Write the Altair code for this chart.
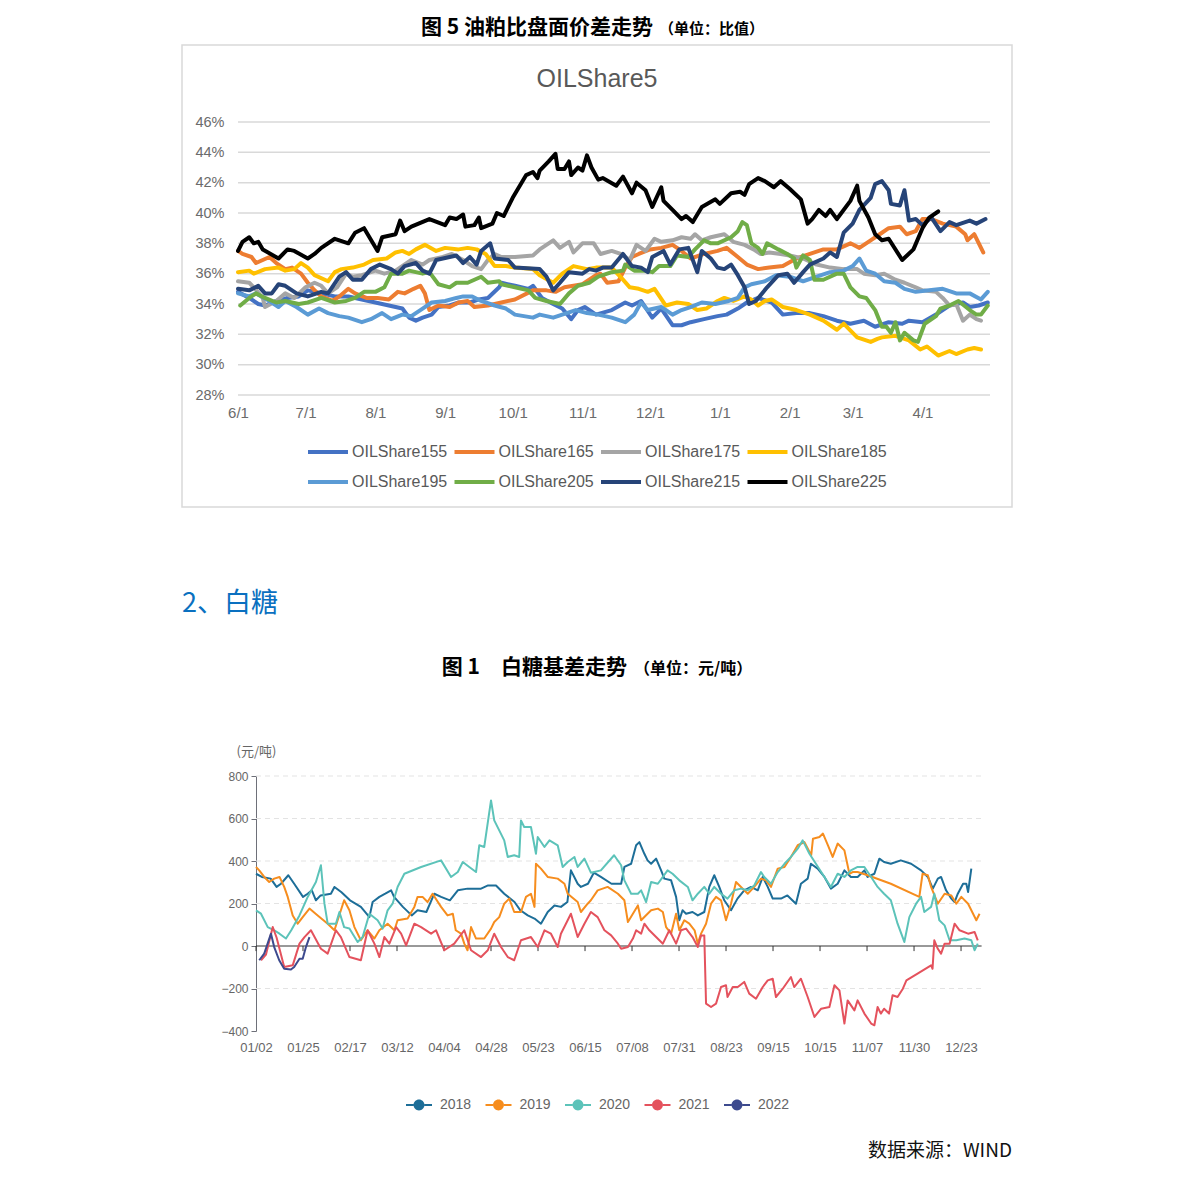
import altair as alt
import pandas as pd

# ---------------- Chart 1 (OILShare5) ----------------
series_names = ["OILShare155", "OILShare165", "OILShare175", "OILShare185",
                "OILShare195", "OILShare205", "OILShare215", "OILShare225"]
series_colors = ["#4472C4", "#ED7D31", "#A5A5A5", "#FFC000",
                 "#5B9BD5", "#70AD47", "#264478", "#000000"]
month_ticks = [0, 30, 61, 92, 122, 153, 183, 214, 245, 273, 304]
month_labels = ["6/1", "7/1", "8/1", "9/1", "10/1", "11/1", "12/1", "1/1", "2/1", "3/1", "4/1"]
pct_ticks = [28, 30, 32, 34, 36, 38, 40, 42, 44, 46]

# (day offset from 6/1, value %)
OIL155 = [(0,34.8),(5,34.4),(9,34.0),(12,33.9),(17,34.2),(22,34.4),(27,34.5),(31,34.9),(37,34.7),(43,34.5),
          (49,34.5),(52,34.4),(58,34.2),(64,34.0),(70,33.8),(73,33.7),(76,33.1),(79,32.9),(82,33.1),(86,33.3),
          (89,33.8),(94,33.9),(98,34.1),(103,34.1),(107,34.3),(111,34.4),(116,35.1),(117,35.4),(123,35.2),(129,35.0),
          (131,35.2),(135,34.4),(140,34.0),(144,33.7),(148,33.0),(151,33.6),(154,33.8),(159,33.3),(166,33.6),(172,34.1),
          (175,33.9),(179,34.2),(184,33.1),(188,33.7),(193,32.6),(197,32.6),(201,32.8),(207,33.0),(213,33.2),(217,33.3),
          (222,33.7),(226,34.1),(231,34.4),(237,34.1),(242,33.3),(248,33.4),(254,33.4),(260,33.2),(266,32.9),(272,32.7),
          (278,32.9),(283,32.5),(289,32.8),(295,32.7),(298,32.9),(304,32.8),(310,33.3),(316,33.9),(322,34.1),(325,33.8),
          (329,33.9),(333,34.1)]
OIL165 = [(0,37.5),(2,37.3),(6,37.1),(8,36.7),(14,37.1),(17,36.7),(21,36.3),(24,36.4),(28,36.0),(31,35.4),
          (34,34.9),(37,34.5),(42,34.2),(45,34.5),(49,35.0),(52,34.7),(57,34.4),(62,34.4),(67,34.3),(71,34.8),
          (74,34.7),(78,35.0),(81,35.2),(83,34.7),(85,33.6),(89,33.9),(94,33.8),(98,34.1),(102,34.2),(105,33.8),
          (111,33.9),(117,34.1),(123,34.3),(131,34.9),(137,34.9),(141,34.8),(145,35.1),(153,35.3),(159,35.9),(161,36.0),
          (164,35.4),(169,35.5),(172,36.4),(175,37.1),(178,37.3),(183,37.6),(188,37.7),(193,37.9),(197,37.5),(201,37.0),
          (207,37.3),(213,37.5),(217,37.7),(222,37.1),(226,36.6),(231,36.3),(236,36.4),(242,36.5),(248,37.0),(254,37.3),
          (260,37.6),(266,37.6),(272,38.0),(276,37.7),(281,38.2),(284,38.5),(286,38.7),(289,39.0),(294,39.1),(297,38.6),
          (301,38.8),(304,39.6),(308,39.6),(313,39.3),(319,39.1),(323,38.6),(324,38.2),(327,38.6),(331,37.4)]
OIL175 = [(0,35.5),(5,35.4),(7,35.1),(11,34.4),(12,33.8),(17,34.2),(21,34.7),(25,34.4),(30,35.1),(34,35.4),
          (37,35.2),(40,34.7),(44,35.1),(48,36.0),(51,35.8),(55,35.9),(61,36.2),(65,36.0),(70,36.2),(77,36.9),
          (82,36.6),(85,36.9),(91,37.1),(95,37.3),(100,36.9),(104,36.5),(108,36.3),(111,36.9),(114,37.3),(117,37.1),
          (123,37.1),(131,37.2),(134,37.6),(138,38.0),(140,38.2),(143,37.7),(147,38.1),(149,37.4),(153,38.0),(158,38.0),
          (161,37.3),(166,37.5),(170,37.3),(174,36.9),(177,37.9),(181,37.5),(185,38.3),(188,38.1),(193,38.2),(197,38.4),
          (201,38.3),(203,38.6),(206,38.2),(210,38.4),(216,38.6),(220,38.1),(225,37.9),(229,37.6),(232,37.3),(236,37.4),
          (241,37.3),(245,37.2),(251,37.0),(257,36.6),(263,36.4),(269,36.3),(275,36.3),(278,36.0),(283,35.9),(287,36.0),
          (292,35.6),(296,35.4),(301,35.1),(304,34.9),(310,34.8),(313,34.4),(316,33.9),(319,34.0),(322,32.9),(325,33.3),
          (328,33.0),(330,32.9)]
OIL185 = [(0,36.1),(5,36.2),(7,36.0),(12,36.3),(18,36.4),(21,36.2),(25,36.3),(28,36.7),(31,36.4),(34,35.9),
          (40,35.5),(43,36.1),(46,36.3),(51,36.4),(56,36.6),(60,36.9),(66,37.0),(70,37.4),(73,37.5),(76,37.3),
          (79,37.6),(83,37.9),(88,37.5),(92,37.7),(98,37.6),(102,37.7),(106,37.6),(110,37.3),(112,36.9),(114,36.5),
          (119,36.5),(123,36.4),(131,36.3),(134,35.9),(140,35.4),(144,36.0),(149,36.5),(155,36.3),(159,36.4),(166,36.4),
          (171,35.6),(174,35.1),(178,35.0),(182,34.8),(185,35.0),(190,33.9),(195,34.1),(200,34.0),(204,33.6),(208,33.7),
          (213,34.2),(216,34.4),(220,34.2),(225,34.5),(228,34.3),(231,33.9),(234,34.2),(237,34.3),(242,33.8),(248,33.6),
          (254,33.3),(260,32.9),(266,32.3),(269,32.7),(275,31.8),(281,31.5),(284,31.7),(286,31.8),(292,31.9),(298,31.6),
          (303,31.0),(306,31.2),(311,30.6),(316,30.9),(319,30.7),(324,31.0),(327,31.1),(330,31.0)]
OIL195 = [(0,34.7),(5,34.5),(8,34.7),(14,34.2),(18,33.8),(21,34.2),(26,33.8),(31,33.3),(36,33.7),(40,33.4),
          (45,33.2),(49,33.1),(55,32.8),(59,33.0),(64,33.4),(68,33.0),(73,33.3),(77,33.2),(82,33.7),(86,34.1),
          (92,34.2),(97,34.4),(100,34.5),(104,34.5),(108,34.2),(114,33.9),(119,33.7),(123,33.3),(131,33.1),(134,33.3),
          (140,33.1),(144,33.3),(150,33.6),(155,33.4),(160,33.3),(166,33.1),(172,32.8),(176,33.3),(179,34.1),(182,33.6),
          (188,33.8),(193,33.3),(197,33.6),(201,33.8),(206,34.1),(212,34.0),(218,34.2),(222,34.4),(225,35.1),(228,35.3),
          (234,35.5),(239,35.9),(245,35.8),(251,35.5),(257,35.8),(263,36.1),(269,36.2),(273,36.5),(276,37.0),(279,36.2),
          (283,36.0),(287,35.5),(292,35.4),(296,35.0),(301,34.8),(307,34.9),(313,35.0),(319,34.7),(325,34.7),(330,34.3),
          (333,34.8)]
OIL205 = [(1,33.9),(5,34.4),(8,34.7),(12,34.4),(17,34.1),(21,34.2),(27,34.0),(31,34.1),(37,34.4),(43,34.1),
          (48,34.2),(52,34.4),(56,34.8),(61,34.8),(65,35.1),(68,36.0),(73,36.0),(76,36.2),(82,36.0),(85,36.1),
          (89,35.3),(94,35.1),(97,35.4),(102,35.4),(108,35.8),(111,35.4),(116,35.5),(117,35.3),(123,35.1),(129,34.9),
          (132,34.4),(137,34.2),(143,34.0),(147,34.7),(151,35.2),(156,35.4),(160,35.8),(164,36.0),(166,36.1),(171,36.2),
          (172,36.6),(176,36.2),(181,36.2),(184,36.1),(187,36.5),(192,36.5),(195,37.2),(200,37.1),(203,37.6),(207,38.2),
          (210,38.0),(213,38.0),(219,38.4),(222,38.8),(224,39.4),(226,39.2),(228,38.0),(231,37.7),(233,37.3),(235,38.0),
          (240,37.6),(244,37.3),(247,37.0),(248,36.4),(251,37.2),(254,36.9),(256,35.6),(260,35.6),(266,36.0),(269,36.0),
          (272,35.1),(276,34.5),(279,34.4),(283,33.6),(286,32.5),(288,32.5),(290,32.1),(292,32.8),(294,31.6),(296,32.1),
          (300,31.6),(302,31.5),(305,32.7),(310,33.2),(312,33.7),(316,33.9),(320,34.2),(325,33.6),(328,33.3),(330,33.3),
          (333,33.9)]
OIL215 = [(0,35.0),(5,34.9),(9,35.2),(12,34.7),(15,34.7),(18,35.3),(21,35.2),(26,34.7),(31,34.5),(37,34.8),
          (40,34.7),(45,35.8),(48,36.1),(51,35.6),(55,35.6),(59,36.3),(63,36.6),(68,36.3),(71,36.0),(74,36.5),
          (79,36.7),(82,36.2),(85,36.0),(88,36.9),(94,37.1),(97,37.2),(100,36.7),(103,37.1),(106,36.6),(108,37.5),
          (112,38.0),(114,37.0),(120,36.9),(123,36.4),(134,36.3),(137,35.8),(140,34.9),(143,35.4),(147,36.1),(153,36.0),
          (156,36.3),(159,36.2),(162,36.4),(166,36.4),(171,37.3),(175,36.5),(179,36.4),(182,36.1),(184,37.1),(189,37.5),
          (192,36.6),(196,37.6),(200,37.7),(204,36.1),(206,37.5),(210,37.0),(213,36.4),(216,36.3),(219,36.6),(222,35.9),
          (225,35.1),(227,34.0),(230,34.2),(235,35.1),(240,35.9),(244,36.0),(247,35.4),(251,36.1),(254,36.6),(260,37.0),
          (263,37.4),(266,37.1),(269,38.7),(273,39.3),(276,40.2),(281,41.0),(283,41.9),(286,42.1),(289,41.5),(290,40.6),
          (294,40.5),(296,41.5),(298,39.5),(301,39.6),(304,39.2),(308,39.7),(312,38.8),(316,39.4),(319,39.2),(325,39.5),
          (328,39.3),(332,39.6)]
OIL225 = [(0,37.5),(2,38.1),(5,38.4),(7,38.0),(9,38.1),(11,37.6),(18,37.0),(22,37.6),(25,37.5),(31,37.0),
          (34,37.3),(37,37.7),(43,38.3),(49,38.0),(52,38.7),(56,39.0),(62,37.5),(64,38.4),(70,38.6),(72,39.5),
          (74,38.8),(77,39.1),(85,39.6),(92,39.2),(94,39.7),(97,39.6),(100,39.9),(101,39.1),(105,39.2),(107,39.7),
          (108,39.0),(113,39.3),(115,40.0),(118,39.8),(120,40.4),(122,41.0),(128,42.5),(131,42.7),(133,42.3),(134,42.8),
          (138,43.4),(141,43.9),(142,42.9),(145,42.9),(147,43.4),(148,42.5),(151,43.0),(153,42.8),(155,43.8),(157,43.0),
          (160,42.2),(162,42.3),(168,41.8),(171,42.4),(175,41.3),(177,42.0),(181,41.5),(184,40.4),(188,41.7),(189,40.8),
          (193,40.2),(197,39.6),(199,39.8),(202,39.4),(206,40.4),(212,40.9),(214,40.6),(219,41.3),(223,41.4),(225,41.2),
          (227,41.9),(231,42.3),(234,42.1),(238,41.7),(241,42.1),(245,41.6),(250,40.9),(253,39.3),(255,39.6),(258,40.2),
          (261,39.8),(263,40.2),(266,39.6),(272,40.8),(275,41.8),(276,40.8),(280,39.7),(283,38.6),(286,38.2),(289,38.3),
          (295,36.9),(300,37.6),(304,39.0),(307,39.7),(311,40.1)]

# ---------------- Chart 2 (sugar basis) ----------------
years = ["2018", "2019", "2020", "2021", "2022"]
year_colors = ["#1d6e98", "#f68d1e", "#5cc3b9", "#e4525d", "#3d4a8e"]
day_ticks = [0, 16, 32, 48, 64, 80, 96, 112, 128, 144, 160, 176, 192, 208, 224, 240]
day_labels = ["01/02", "01/25", "02/17", "03/12", "04/04", "04/28", "05/23", "06/15",
              "07/08", "07/31", "08/23", "09/15", "10/15", "11/07", "11/30", "12/23"]
basis_ticks = [-400, -200, 0, 200, 400, 600, 800]
basis_grid = [800, 600, 400, 200, -200]

# (trading-day index, 元/吨)
Y2018 = [(0,340),(2,325),(5,317),(7,278),(8.5,293),(11,333),(13,293),(16,231),(17.6,246),(19,262),(20.4,215),
         (22,238),(25.5,246),(26.7,278),(29,254),(32,215),(35.7,184),(38.6,136),(39.7,207),(42,231),(44,246),
         (46,262),(47,231),(50,184),(53,144),(55,168),(58,160),(60.7,246),(63,231),(66,215),(68.7,262),(72,270),
         (76.6,270),(79,285),(81.7,285),(84.5,246),(88,207),(90,168),(92.5,144),(94.8,129),(97,105),(99.3,160),
         (101.6,191),(103.8,184),(106,207),(107.2,356),(109.5,293),(110.6,278),(113,293),(115,345),(117.4,325),
         (121,293),(124.3,293),(125.4,372),(127.7,387),(129.4,474),(130.5,489),(132.2,434),(133.3,403),(134.5,387),
         (136.2,411),(137.9,356),(139,317),(141.3,309),(143,231),(144.1,121),(145.2,168),(146.4,152),(148.6,160),
         (150.4,144),(152.6,160),(154.3,278),(156,333),(157.7,278),(159.4,215),(161.7,168),(163.9,223),(166.2,262),
         (168.5,278),(170.8,262),(172.5,325),(174.2,278),(175.9,223),(178.7,223),(180.9,238),(183.8,199),(185.5,293),
         (187.8,317),(188.9,387),(191.2,364),(193.5,325),(195.7,270),(198,293),(200.3,356),(202.5,325),(204.8,325),
         (207.1,356),(208.2,325),(210.5,340),(212.2,411),(213.8,395),(216.1,387),(219.5,403),(223,387),(226.4,356),
         (228.7,325),(230.4,270),(232.1,317),(233.2,325),(234.9,262),(236.7,223),(237.8,207),(238.9,246),(240.7,293),
         (241.8,293),(242.4,254),(243.5,364)]
Y2019 = [(0,372),(1.1,356),(2.8,325),(4.5,301),(6.2,317),(8,325),(9.6,278),(10.8,231),(12.5,144),(14.2,105),
         (15.9,136),(18.2,176),(21,144),(24.4,105),(26.7,74),(30,215),(31.8,168),(33.5,89),(35.7,27),(38,74),
         (40.3,35),(42,74),(44.8,105),(47.1,74),(48.2,121),(51.6,129),(53.9,184),(55,231),(56.7,231),(58.4,207),
         (60.1,246),(63,184),(65.2,144),(67,152),(68,74),(69.8,58),(70.9,11),(72,-20),(73.2,89),(74.9,35),(77.7,35),
         (80,82),(81.1,113),(82.8,136),(84.5,199),(86.2,223),(87.9,160),(90.2,160),(91.9,231),(93.6,246),(94.8,184),
         (95.3,387),(97,364),(99.3,325),(102.7,317),(105,293),(106.1,246),(109.5,207),(110.6,160),(112.9,199),
         (114,215),(116.3,262),(119.7,278),(123.2,246),(125.4,215),(126.6,113),(128.3,152),(130,191),(131.1,121),
         (133.3,152),(134.5,168),(136.8,176),(138.5,160),(139.6,89),(141.3,58),(143,152),(144.1,74),(145.8,121),
         (147.5,105),(149.3,74),(150.4,11),(151.5,58),(153.2,105),(154.9,199),(156.6,231),(158.3,215),(160,121),
         (161.7,199),(163.4,301),(165.1,278),(167.4,246),(169.6,278),(171.9,317),(173.6,309),(175.3,278),(177.6,364),
         (179.9,372),(182.1,419),(184.4,474),(186.7,489),(189,427),(189.6,505),(191.8,513),(193,529),(194.7,474),
         (196.3,419),(198,482),(200.3,450),(202,340),(203.1,348),(204.8,348),(208.2,333),(216.1,293),(225.8,231),
         (226.9,340),(228.7,333),(229.8,278),(232.1,199),(234.4,246),(236.7,238),(238.4,199),(240.1,231),(242.4,199),
         (245.2,121),(246.3,152)]
Y2020 = [(0,168),(1.7,152),(4,89),(6.2,74),(8,58),(10.2,35),(12,74),(14.8,144),(17.6,231),(20.4,301),(22.1,380),
         (23.3,199),(24.4,105),(27.2,105),(28.4,160),(30,89),(31.8,82),(34.6,19),(36.3,42),(38.6,152),(41.4,121),
         (43.1,82),(44.8,168),(46.5,199),(48.2,278),(50.5,340),(56.2,372),(63,403),(66.4,325),(68.7,348),(70.4,395),
         (72.6,372),(74.9,348),(76,474),(77.7,466),(80,685),(81.1,591),(84.5,497),(85.7,419),(87.9,427),(89.6,419),
         (90.2,591),(91.3,560),(93.6,560),(95.3,434),(95.9,513),(98.2,466),(99.9,497),(102.7,474),(104.4,372),
         (106.1,395),(108.4,419),(109.5,372),(111.8,411),(114,345),(117.4,356),(121.9,427),(124.3,380),(125.4,309),
         (127.7,246),(130,246),(131.1,262),(132.8,207),(134.5,301),(136.8,293),(140.1,356),(141.8,340),(144.1,309),
         (147,278),(148.6,215),(150.4,246),(152.6,278),(154.3,246),(156,278),(158.3,246),(160.5,223),(162.8,262),
         (165.1,270),(167.4,262),(169.6,285),(171.9,348),(173,325),(175.3,293),(177.6,348),(179.9,387),(182.1,419),
         (184.4,458),(186.1,497),(188.4,434),(190.6,387),(193.5,325),(195.7,278),(198,340),(200.3,325),(202.5,356),
         (204.8,372),(207.1,372),(209.4,325),(211.6,278),(213.8,246),(216.1,215),(218.4,105),(220.7,19),(222.4,136),
         (224.7,199),(226.4,231),(227.5,160),(229.8,184),(230.9,246),(232.6,121),(234.4,97),(236.1,27),(238.4,27),
         (241.2,35),(243.5,27),(244.6,-20),(245.7,11)]
Y2021 = [(1.7,-67),(3.4,-40),(5.7,89),(7,40),(9.6,-99),(12.5,-91),(14.8,11),(16.5,42),(18.7,74),(22.1,-13),
         (24.4,-36),(27.2,74),(28.9,42),(31.8,-52),(35.7,-67),(38,74),(40.3,11),(42,-52),(43.7,42),(45.4,11),
         (47.7,89),(49.4,58),(51.1,3),(53.9,105),(56.2,89),(59.6,58),(61.3,74),(64.1,-20),(67.5,11),(70.9,74),
         (73.2,-20),(76.6,-52),(78.9,-20),(81.1,58),(83.4,-5),(85.7,-52),(87.9,-67),(90.2,27),(93.6,42),(95.9,-5),
         (98.2,74),(100.4,58),(102.7,-5),(103.8,58),(106.1,121),(107.2,152),(109.5,42),(111.8,105),(114,160),
         (116.3,136),(118.6,74),(120.9,50),(123.2,11),(124.3,-13),(126.6,-5),(128.3,35),(129.4,74),(131.1,58),
         (132.2,105),(133.9,74),(136.2,42),(138.5,11),(140.7,74),(143,11),(144.7,74),(146.4,82),(148.6,42),
         (150.4,-5),(151.5,50),(152.6,50),(153.2,-271),(154.9,-287),(156.6,-271),(158.3,-193),(160,-185),
         (160.5,-240),(162.3,-193),(164,-193),(166.2,-169),(167.9,-224),(170.2,-248),(172.5,-193),(174.2,-162),
         (175.9,-154),(177,-240),(179.3,-201),(182.1,-146),(183.2,-193),(185.5,-154),(187.8,-240),(190.1,-334),
         (192.4,-295),(195.2,-287),(196.9,-185),(198.6,-209),(200.3,-365),(201.4,-256),(203.7,-303),(204.8,-256),
         (207.1,-318),(209.4,-365),(210.5,-373),(211.6,-287),(212.7,-318),(213.8,-295),(215.5,-318),(216.7,-232),
         (218.4,-240),(220.2,-201),(221.4,-162),(225.2,-130),(229.8,-91),(230.3,-107),(230.9,27),(232.1,-13),
         (233.2,-36),(234.4,11),(236.1,11),(237.8,105),(239.5,74),(242.4,58),(244.6,66),(245.7,27)]
Y2022 = [(1.1,-67),(2.8,-36),(5.1,58),(6.2,-5),(7.9,-67),(9.6,-107),(11.9,-111),(13,-99),(14.8,-60),
         (15.9,-60),(17,-5),(18.2,42)]

# ---------------- build tables ----------------
oil_series = [OIL155, OIL165, OIL175, OIL185, OIL195, OIL205, OIL215, OIL225]
rows1 = []
for name, pts in zip(series_names, oil_series):
    for d, v in pts:
        rows1.append({"series": name, "d": d, "v": v})
df1 = pd.DataFrame(rows1)

sugar_series = [Y2018, Y2019, Y2020, Y2021, Y2022]
rows2 = []
for yr, pts in zip(years, sugar_series):
    for i, v in pts:
        rows2.append({"year": yr, "i": i, "v": v})
df2 = pd.DataFrame(rows2)

CJK = "Noto Sans CJK SC"
LAT = "Liberation Sans"

# ---------------- Chart 1 ----------------
W = 830
H1 = 462
x1_scale = alt.Scale(domain=[0, 334], range=[56, 808], nice=False, zero=False)
y1_scale = alt.Scale(domain=[28, 46], range=[350, 77], nice=False, zero=False)
lab1 = "[" + ",".join("'%s'" % s for s in month_labels) + "][indexof([" + \
       ",".join(str(t) for t in month_ticks) + "], datum.value)]"
x1_axis = alt.Axis(values=month_ticks, labelExpr=lab1, domain=False, ticks=False, tickSize=0,
                   grid=False, labelFont=LAT, labelFontSize=15, labelColor="#6b6b6b",
                   labelPadding=10, offset=-112, title=None, labelFlush=False, labelOverlap=False)
y1_axis = alt.Axis(values=pct_ticks, labelExpr="datum.value + '%'", domain=False, ticks=False,
                   tickSize=0, grid=False, labelFont=LAT, labelFontSize=14.5, labelColor="#6b6b6b",
                   labelPadding=14, offset=-56, title=None, labelOverlap=False)

grid1_df = pd.DataFrame({"v": pct_ticks, "x0": [0] * len(pct_ticks), "x1": [334] * len(pct_ticks)})
grid1 = alt.Chart(grid1_df).mark_rule(color="#d9d9d9", strokeWidth=1.5).encode(
    x=alt.X("x0:Q", scale=x1_scale, axis=x1_axis),
    x2="x1:Q",
    y=alt.Y("v:Q", scale=y1_scale, axis=y1_axis),
)
leg1 = alt.Legend(orient="none", legendX=124, legendY=385, direction="horizontal", columns=4,
                  symbolType="stroke", symbolSize=1600, symbolStrokeWidth=4,
                  labelFont=LAT, labelFontSize=16, labelColor="#595959", labelOffset=2,
                  columnPadding=-1.5, rowPadding=-10, title=None, labelLimit=200)
lines1 = alt.Chart(df1).mark_line(strokeWidth=4, strokeJoin="round", strokeCap="round").encode(
    x=alt.X("d:Q", scale=x1_scale, axis=x1_axis),
    y=alt.Y("v:Q", scale=y1_scale, axis=y1_axis),
    color=alt.Color("series:N", scale=alt.Scale(domain=series_names, range=series_colors),
                    legend=leg1, sort=series_names),
)
title1 = alt.Chart(pd.DataFrame({"t": ["OILShare5"]})).mark_text(
    font=LAT, fontSize=25, color="#595959", align="center", baseline="middle"
).encode(text="t:N", x=alt.value(415), y=alt.value(34))

chart1 = alt.layer(grid1, lines1, title1).properties(
    width=W, height=H1, view=alt.ViewBackground(stroke="#d9d9d9", strokeWidth=1.5))

# ---------------- Heading rows ----------------
head0a = alt.Chart(pd.DataFrame({"t": ["图 5 油粕比盘面价差走势"]})).mark_text(
    font=CJK, fontWeight="bold", fontSize=21, align="right", baseline="middle", color="#000000"
).encode(text="t:N", x=alt.value(471), y=alt.value(19))
head0b = alt.Chart(pd.DataFrame({"t": ["（单位：比值）"]})).mark_text(
    font=CJK, fontWeight="bold", fontSize=15, align="left", baseline="middle", color="#000000"
).encode(text="t:N", x=alt.value(477), y=alt.value(20))
row0 = alt.layer(head0a, head0b).properties(width=W, height=36)

head2a = alt.Chart(pd.DataFrame({"t": ["2、白糖"]})).mark_text(
    font=CJK, fontSize=27, align="left", baseline="middle", color="#0a70c0"
).encode(text="t:N", x=alt.value(0), y=alt.value(97))
head2b = alt.Chart(pd.DataFrame({"t": ["图 1　白糖基差走势"]})).mark_text(
    font=CJK, fontWeight="bold", fontSize=21, align="right", baseline="middle", color="#000000"
).encode(text="t:N", x=alt.value(445), y=alt.value(161))
head2c = alt.Chart(pd.DataFrame({"t": ["（单位：元/吨）"]})).mark_text(
    font=CJK, fontWeight="bold", fontSize=16, align="left", baseline="middle", color="#000000"
).encode(text="t:N", x=alt.value(452), y=alt.value(162))
row2 = alt.layer(head2a, head2b, head2c).properties(width=W, height=184)

# ---------------- Chart 2 ----------------
H2 = 470
x2_scale = alt.Scale(domain=[0, 247], range=[74, 799.6], nice=False, zero=False)
y2_scale = alt.Scale(domain=[-400, 800], range=[340, 85], nice=False, zero=False)
lab2 = "[" + ",".join("'%s'" % s for s in day_labels) + "][indexof([" + \
       ",".join(str(t) for t in day_ticks) + "], datum.value)]"
x2_axis = alt.Axis(values=day_ticks, labelExpr=lab2, domain=False, ticks=False, tickSize=0,
                   grid=False, labelFont=LAT, labelFontSize=13, labelColor="#666666",
                   labelPadding=10, offset=-130, title=None, labelFlush=False, labelOverlap=False)
y2_axis = alt.Axis(values=basis_ticks, domain=True, domainColor="#6e7079", ticks=True,
                   tickColor="#6e7079", tickSize=5, grid=False, labelFont=LAT, labelFontSize=12,
                   labelColor="#666666", labelPadding=3, offset=-74, labelOverlap=False,
                   title="(元/吨)", titleAngle=0, titleX=0, titleY=60, titleAlign="center",
                   titleBaseline="middle", titleFont=CJK, titleFontSize=13, titleFontWeight="normal",
                   titleColor="#666666")

grid2_df = pd.DataFrame({"v": basis_grid, "x0": [0] * len(basis_grid), "x1": [247] * len(basis_grid)})
grid2 = alt.Chart(grid2_df).mark_rule(color="#e3e3e3", strokeWidth=1, strokeDash=[5, 4]).encode(
    x=alt.X("x0:Q", scale=x2_scale, axis=x2_axis), x2="x1:Q",
    y=alt.Y("v:Q", scale=y2_scale, axis=y2_axis))
zero_df = pd.DataFrame({"v": [0], "x0": [0], "x1": [247]})
zero2 = alt.Chart(zero_df).mark_rule(color="#333333", strokeWidth=1).encode(
    x=alt.X("x0:Q", scale=x2_scale, axis=x2_axis), x2="x1:Q",
    y=alt.Y("v:Q", scale=y2_scale, axis=y2_axis))
tick_df = pd.DataFrame({"i": day_ticks, "y0": [0] * len(day_ticks), "y1": [-24] * len(day_ticks)})
ticks2 = alt.Chart(tick_df).mark_rule(color="#333333", strokeWidth=1).encode(
    x=alt.X("i:Q", scale=x2_scale, axis=x2_axis),
    y=alt.Y("y0:Q", scale=y2_scale, axis=y2_axis), y2="y1:Q")
# the line scale lists the same years in reverse order (same colour mapping), so that its
# hidden legend is not merged with the visible legend below
lines2 = alt.Chart(df2).mark_line(strokeWidth=2, strokeJoin="round").encode(
    x=alt.X("i:Q", scale=x2_scale, axis=x2_axis),
    y=alt.Y("v:Q", scale=y2_scale, axis=y2_axis),
    stroke=alt.Stroke("year:N", scale=alt.Scale(domain=years[::-1], range=year_colors[::-1]),
                      legend=None),
)
sym_path = ("M-1,-0.075L-0.42,-0.075L-0.42,0.075L-1,0.075Z "
            "M0.42,-0.075L1,-0.075L1,0.075L0.42,0.075Z "
            "M0.42,0A0.42,0.42,0,1,1,-0.42,0A0.42,0.42,0,1,1,0.42,0Z")
leg2 = alt.Legend(orient="none", legendX=224, legendY=401, direction="horizontal",
                  symbolType=sym_path, symbolSize=676, symbolStrokeWidth=0,
                  labelFont=LAT, labelFontSize=14, labelColor="#666666", labelOffset=8,
                  columnPadding=13.5, title=None)
# legend-only layer: one row per year, without coordinates, so nothing is drawn in the plot
leg_df = pd.DataFrame({"yr": years, "li": [None] * len(years), "lv": [None] * len(years)})
legpts2 = alt.Chart(leg_df).mark_point(filled=True, opacity=1, size=60).encode(
    x=alt.X("li:Q", scale=x2_scale, axis=x2_axis),
    y=alt.Y("lv:Q", scale=y2_scale, axis=y2_axis),
    fill=alt.Fill("yr:N", scale=alt.Scale(domain=years, range=year_colors), legend=leg2),
)
source2 = alt.Chart(pd.DataFrame({"t": ["数据来源：WIND"]})).mark_text(
    font=CJK, fontSize=19, align="right", baseline="middle", color="#111111"
).encode(text="t:N", x=alt.value(830), y=alt.value(460))

chart2 = alt.layer(grid2, zero2, ticks2, lines2, legpts2, source2).properties(width=W, height=H2)

chart = alt.vconcat(row0, chart1, row2, chart2, spacing=0, bounds="flush").properties(
    padding={"left": 173, "top": 0, "right": 0, "bottom": 0}
).resolve_scale(
    color="independent", fill="independent", stroke="independent"
).resolve_legend(
    color="independent", fill="independent", stroke="independent"
).configure_view(stroke="transparent")

chart.save("out.html", embed_options={"renderer": "svg", "actions": False})
